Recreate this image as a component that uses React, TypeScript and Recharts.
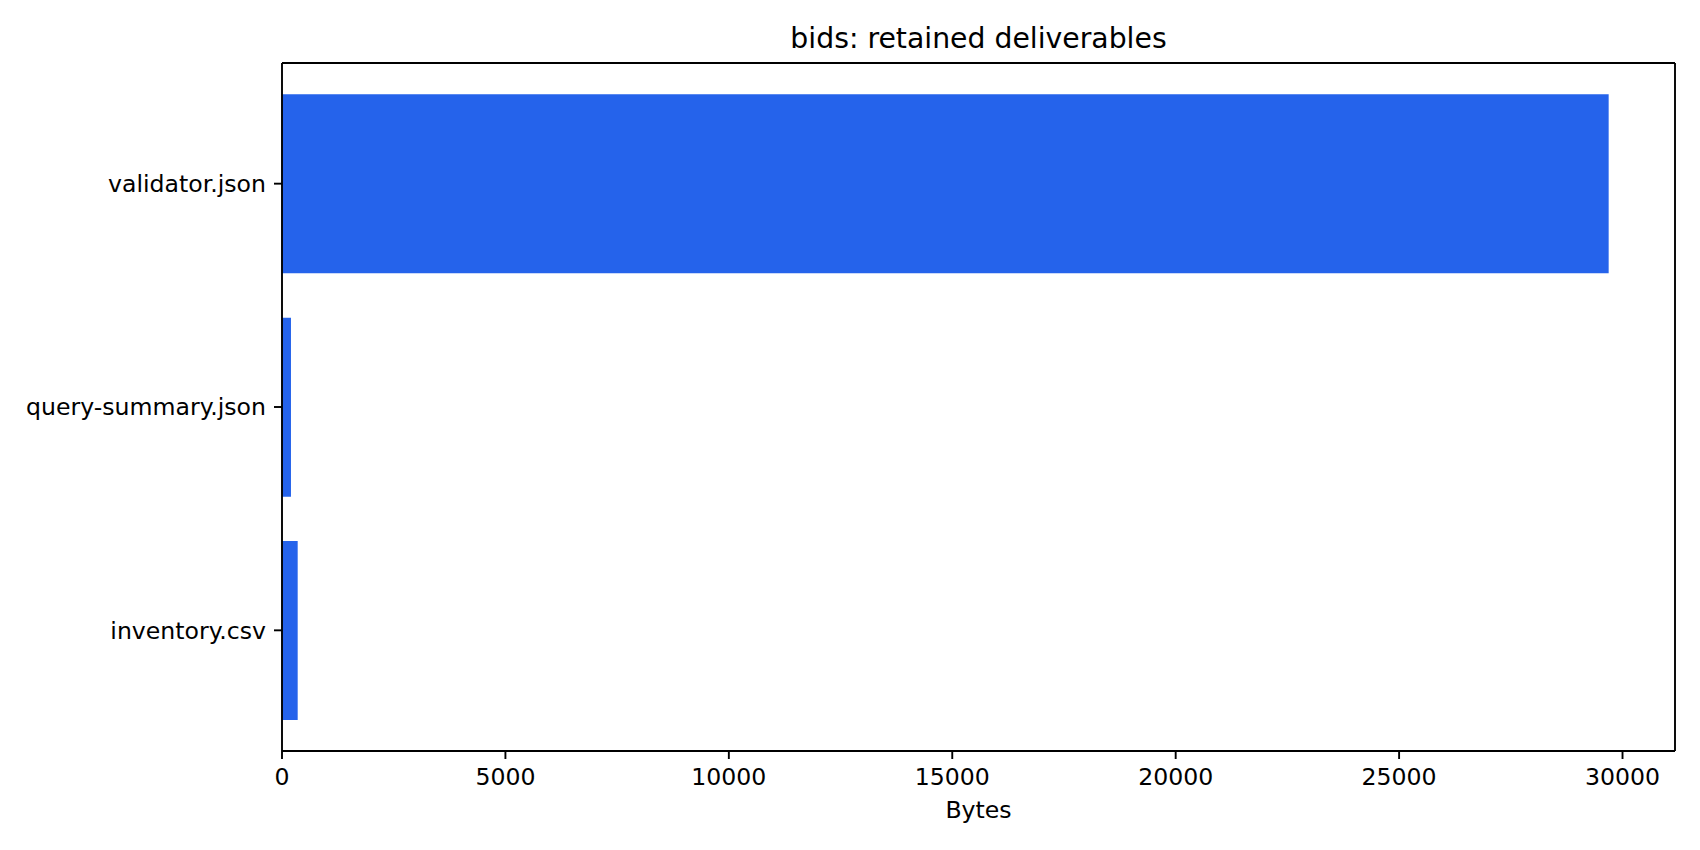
import React from "react";
import { BarChart, Bar, XAxis, YAxis, Label, CartesianGrid } from "recharts";

const categories = ["validator.json", "query-summary.json", "inventory.csv"];
const bytes = [29690, 201, 351];
const xTicks = [0, 5000, 10000, 15000, 20000, 25000, 30000];
const title = "bids: retained deliverables";
const xLabel = "Bytes";

const data = categories.map((name, i) => ({ name, value: bytes[i] }));
const xMax = Math.max(...bytes) * 1.05;

const FONT = "DejaVu Sans, sans-serif";
const PLOT_LEFT = 282;
const PLOT_RIGHT_MARGIN = 25;
const PLOT_TOP = 63;

export default function App() {
  return (
    <div style={{ position: "absolute", left: 0, top: 0, width: 1700, height: 850, background: "#fff" }}>
      <div
        style={{
          position: "absolute",
          left: PLOT_LEFT,
          width: 1700 - PLOT_LEFT - PLOT_RIGHT_MARGIN,
          top: 25,
          textAlign: "center",
          fontFamily: FONT,
          fontSize: 28.3,
          lineHeight: "28.3px",
          color: "#000",
          whiteSpace: "nowrap",
        }}
      >
        {title}
      </div>
      <BarChart
        width={1700}
        height={850}
        data={data}
        layout="vertical"
        barCategoryGap="10%"
        margin={{ top: PLOT_TOP, right: PLOT_RIGHT_MARGIN, bottom: 0, left: 0 }}
        style={{ fontFamily: FONT }}
      >
        <CartesianGrid
          stroke="#000"
          strokeWidth={1.9}
          horizontalCoordinatesGenerator={({ offset }: any) => [offset.top]}
          verticalCoordinatesGenerator={({ offset }: any) => [offset.left + offset.width]}
        />
        <XAxis
          type="number"
          dataKey="value"
          domain={[0, xMax]}
          ticks={xTicks}
          allowDataOverflow
          height={99}
          tickSize={8}
          tickMargin={9}
          axisLine={{ stroke: "#000", strokeWidth: 1.9 }}
          tickLine={{ stroke: "#000", strokeWidth: 1.9 }}
          tick={{ fill: "#000", fontSize: 23.6, fontFamily: FONT }}
        >
          <Label
            value={xLabel}
            position="insideBottom"
            offset={32}
            style={{ fill: "#000", fontSize: 23.6, fontFamily: FONT }}
          />
        </XAxis>
        <YAxis
          type="category"
          dataKey="name"
          width={PLOT_LEFT}
          padding={{ top: 9, bottom: 9 }}
          tickSize={8}
          tickMargin={8}
          axisLine={{ stroke: "#000", strokeWidth: 1.9 }}
          tickLine={{ stroke: "#000", strokeWidth: 1.9 }}
          tick={{ fill: "#000", fontSize: 23.6, fontFamily: FONT }}
          interval={0}
        />
        <Bar dataKey="value" fill="#2563eb" isAnimationActive={false} />
      </BarChart>
    </div>
  );
}
